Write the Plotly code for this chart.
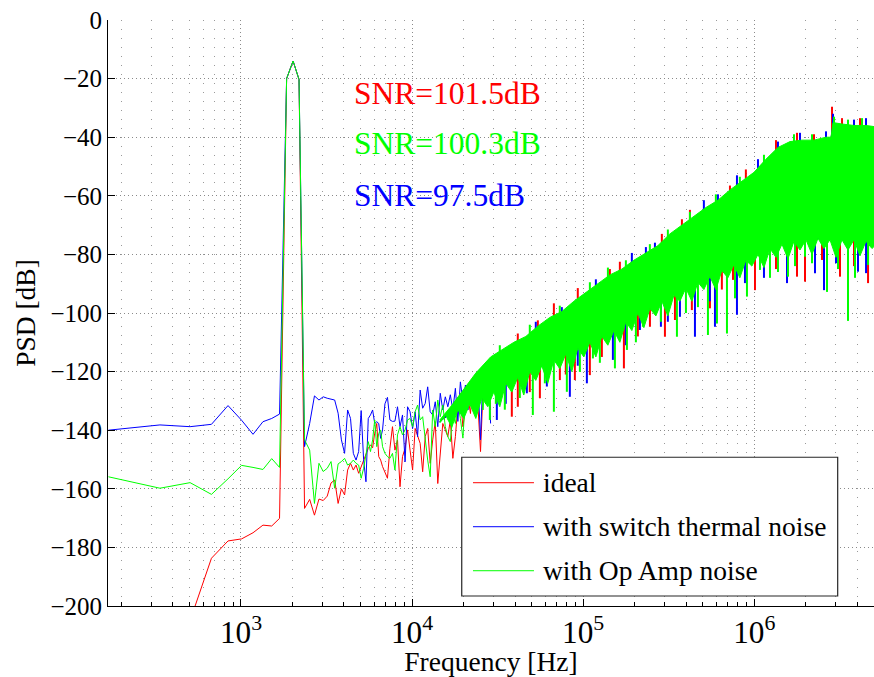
import math
import plotly.graph_objects as go

# ---------------------------------------------------------------------------
# PSD of the modulator output (dB) for three noise configurations
# ---------------------------------------------------------------------------

# Low-frequency FFT bins (resolution ~168 Hz), signal tone near 2 kHz
freq_bins = [168, 336, 504, 672, 840, 1008, 1176, 1344, 1512, 1680,
             1848, 2016, 2184, 2352, 2520, 2688, 2856, 3024, 3192, 3360,
             3528, 3696, 3864, 4032, 4200, 4368, 4536, 4704, 4872, 5040,
             5208, 5376, 5544, 5712, 5880, 6048, 6216, 6384, 6552, 6720]

ideal_bins = [-240, -222, -205, -183.7, -177.8, -177.1, -175.0, -172.4, -172.7, -170.1,
              -20.0, -14.0, -20.3, -166.7, -163.6, -169.0, -163.5, -164.0, -162.5, -158.0,
              -157.0, -165.0, -160.0, -162.1, -153.6, -151.3, -153.6, -151.9, -154.7, -152.4,
              -150.2, -148.5, -146.2, -145.0, -146.0, -141.0, -137.7, -149.0, -150.2, -152.4]
switch_bins = [-140.0, -138.2, -138.8, -138.0, -131.6, -136.6, -141.4, -137.1, -136.0, -134.5,
               -20.0, -14.0, -20.3, -145.6, -137.7, -128.3, -129.7, -128.6, -129.1, -129.5,
               -129.7, -134.2, -143.3, -147.9, -133.1, -136.0, -147.9, -150.2, -147.3, -133.3,
               -150.0, -157.6, -136.0, -134.8, -133.1, -137.7, -137.1, -137.7, -142.8, -139.9]
opamp_bins = [-155.9, -159.8, -157.9, -161.9, -156.6, -152.0, -152.7, -153.4, -149.7, -152.7,
              -20.0, -14.0, -20.3, -143.3, -146.8, -165.0, -151.3, -154.1, -153.0, -150.7,
              -159.8, -151.5, -150.7, -149.6, -151.9, -151.3, -150.2, -151.3, -151.9, -156.4,
              -153.0, -147.9, -143.9, -147.3, -143.3, -136.5, -145.6, -141.1, -139.9, -145.6]

# 7 kHz - 29 kHz: sampled points of the rising noise floor
freq_mid = [6940, 7180, 7420, 7680, 7940, 8220, 8500, 8790, 9100, 9410,
            9730, 10070, 10420, 10770, 11150, 11530, 11930, 12340, 12760, 13200,
            13660, 14130, 14610, 15120, 15640, 16180, 16730, 17310, 17910, 18520,
            19160, 19820, 20500, 21210, 21940, 22700, 23480, 24290, 25120, 25990,
            26890, 27810, 28770]

ideal_mid = [-154.7, -156.4, -146.2, -138.8, -146.8, -143.3, -159.3, -149.0, -146.2, -139.9,
             -146.8, -153.6, -139.4, -141.6, -144.5, -154.2, -142.2, -139.4, -151.3, -143.3,
             -137.1, -158.2, -146.8, -137.7, -139.9, -142.2, -136.5, -149.6, -142.2, -131.4,
             -129.1, -138.8, -132.5, -128.6, -134.3, -124.0, -127.4, -132.0, -147.3, -126.3,
             -122.9, -116.6, -133.1]
switch_mid = [-131.0, -128.8, -136.5, -137.0, -136.9, -132.0, -138.8, -134.8, -150.8, -132.0,
              -133.7, -139.4, -133.7, -142.2, -126.3, -132.5, -130.9, -125.2, -133.7, -134.8,
              -130.3, -138.8, -127.4, -133.1, -128.6, -132.0, -127.9, -133.1, -125.7, -137.0,
              -123.5, -130.3, -124.6, -133.1, -125.2, -122.9, -132.0, -123.5, -143.3, -120.1,
              -122.3, -120.6, -137.7]
opamp_mid = [-147.9, -149.0, -149.6, -147.9, -153.6, -141.6, -138.8, -141.6, -139.9, -136.5,
             -136.0, -138.8, -133.7, -131.4, -136.5, -135.4, -143.3, -150.2, -155.9, -133.1,
             -138.8, -129.7, -135.4, -131.4, -138.8, -142.2, -143.9, -134.3, -137.7, -130.9,
             -136.0, -142.7, -128.6, -127.4, -124.0, -126.3, -129.1, -120.6, -122.9, -133.1,
             -120.6, -129.7, -130.9]

# Above ~15 kHz the bins are too dense to separate: upper edge of the noise band
freq_band = [14522, 17067, 20058, 23574,
             28770, 33460, 39330, 46220, 54330, 63880, 75060, 88230, 103700, 121900,
             143300, 168400, 197900, 232600, 273400, 321400, 377700, 444000, 521800, 613400,
             721000, 847500, 995900, 1170600, 1375900, 1617200, 1900900, 2234300, 2626300, 2808500,
             2885100, 3258000, 3828500, 4500500, 5200000]

ideal_top = [-137, -132, -126.5, -121,
             -115.5, -113, -110.5, -108.5, -105, -102, -100, -96.5, -93.5, -90.5,
             -87.5, -85.5, -82.5, -80, -77.5, -73.5, -70.5, -67.5, -64.5, -62,
             -58.5, -55.5, -52.5, -48, -44, -42, -41.5, -41.5, -40.5, -40.5,
             -35.5, -36, -36.5, -36.5, -37]
ideal_floor = [-137, -134, -131, -128.5,
               -127, -125, -122.5, -120, -118, -116, -114, -112, -110, -108,
               -106, -103, -100, -98, -96, -94, -91.5, -89, -87, -85,
               -83, -81, -79, -77.5, -76, -74.5, -74, -74, -74, -74,
               -74, -74, -74, -74.5, -75]
switch_top = [-137, -132, -126.5, -121,
              -115.5, -113, -110.5, -108.5, -105, -102, -100, -96.5, -93.5, -90.5,
              -87.5, -85.5, -82.5, -80, -77.5, -73.5, -70.5, -67.5, -64.5, -62,
              -58.5, -55.5, -52.5, -48, -44, -42, -41.5, -41.5, -40.5, -40.5,
              -35.5, -36, -36.5, -36.5, -37]
switch_floor = [-137, -134, -130.5, -128.5,
                -127.5, -125, -122, -120.5, -118, -116.5, -114, -112.5, -110, -108.5,
                -106, -103.5, -100, -98.5, -96, -94.5, -91.5, -89.5, -87, -85.5,
                -83, -81.5, -79, -78, -76, -75, -74.5, -74.5, -74.5, -74.5,
                -74.5, -74.5, -74.5, -75, -75.5]
opamp_top = [-136.5, -131.5, -126, -120.5,
             -115, -112.5, -110, -108, -104.5, -101.5, -99.5, -96, -93, -90,
             -87, -85, -82, -79.5, -77, -73, -70, -67, -64, -61.5,
             -58, -55, -52, -47.5, -43.5, -41.5, -41, -41, -40, -40,
             -35, -35.5, -36, -36, -36.5]

# Lower edge of the Op Amp band, sampled finely (ragged edge of overlapping bins)
freq_floor = [14522, 15743, 17067, 18502, 20058, 21745, 23574, 25556, 27705, 30034,
              32560, 35298, 38266, 41484, 44973, 48754, 52854, 57298, 62116, 67339,
              73001, 79140, 85795, 93010, 100946, 109430, 118630, 128610, 139420, 151150,
              163860, 177640, 192580, 208770, 226330, 245360, 266000, 288360, 312610, 338900,
              367400, 398300, 431800, 468100, 507500, 550200, 596400, 646600, 701000, 759900,
              823800, 893100, 968200, 1051100, 1139600, 1235400, 1339300, 1451900, 1574100, 1706500,
              1850000, 2005600, 2174300, 2357100, 2555400, 2770300, 3003300, 3255900, 3529700, 3826600,
              4148300, 4497200, 4875400, 5285400]
opamp_floor = [-137.5, -135, -139, -133, -136, -131, -136, -129, -132, -127,
               -132, -124, -127, -122, -128, -120, -123, -118, -124, -116,
               -119, -114, -120, -112, -115, -110, -115, -108, -111, -106,
               -110, -103, -106, -100, -105, -98.5, -101, -96, -101, -94,
               -96, -91.5, -96, -89.5, -92, -87.5, -92, -85.5, -88, -83.5,
               -88, -82, -84, -80, -84.5, -78, -81, -76.5, -81.5, -75.5,
               -78.5, -75, -80, -74.5, -78, -75, -81, -75, -78.5, -75,
               -80.5, -75.5, -78, -76]

# Isolated excursions of single bins beyond the band (frequency, low dB, high dB)
ideal_exc_f = [38280, 41500, 55840, 73070, 89430, 109400, 173000, 245600, 300500, 343900,
               550800, 750900, 1009500, 1777000, 1979600, 2488900, 3170900, 4623800,
               48754, 79140, 128610, 208770, 431800, 646600, 1339300, 3826600,
               67420, 420700, 2848000, 1777000, 41484, 93010, 163860, 288360,
               893100, 1339300, 4148300,
               54330, 143300, 377700, 721000, 2234300, 3258000]
ideal_exc_lo = [-135.4, -132, -129.1, -122.9, -122.9, -121.2, -118.9, -104.7, -108.1, -102.4,
                -98.4, -88.7, -92.2, -87.6, -89.3, -81.9, -87.6, -89.8,
                -127, -121, -115, -108, -99, -92, -85, -84,
                -103, -70, -39, -44, -113, -97, -88, -79,
                -56, -47, -39,
                -106, -89, -72, -61, -43, -38]
ideal_exc_hi = [-122, -121, -117, -114, -111, -109, -102, -97, -94, -92,
                -86, -82, -78, -73, -73, -72, -72, -72,
                -118, -113, -107, -100, -90, -85, -76, -74,
                -96.7, -64.8, -29.6, -38.5, -107, -91.5, -82.5, -73,
                -51, -41, -33.5,
                -102.5, -85, -68, -56.5, -39, -33.5]

switch_exc_f = [31290, 46870, 61340, 83590, 105100, 149200, 163900, 214600, 284700, 367800,
                450100, 589200, 792300, 882300, 1553400, 2264700, 2556800, 4040200, 4500500,
                35298, 93010, 177640, 312610, 550200, 1139600, 3003300,
                262700, 792300, 2885100, 52854, 118630, 192580, 507500,
                1051100, 1850000, 4497200,
                75060, 232600, 613400, 1375900, 2626300, 3828500]
switch_exc_lo = [-136.5, -127.4, -125.1, -128.6, -124, -116, -108.1, -105.8, -104.7, -101.3,
                 -108.1, -104.7, -100.6, -89.8, -89.8, -86.4, -92.2, -85.9, -86.4,
                 -131, -118, -111, -103, -96, -88, -83,
                 -81, -58, -38, -108, -94, -85, -67,
                 -53, -44, -39,
                 -102, -81, -64, -46, -42, -38]
switch_exc_hi = [-125, -119, -116, -112, -110, -105, -103, -98, -95, -92,
                 -89, -85, -82, -80, -74, -72, -72, -72, -72,
                 -124, -111, -103, -95, -87, -78, -74,
                 -76, -53, -32, -103, -88.5, -79.5, -61.5,
                 -47.5, -38.5, -33.5,
                 -98, -77.5, -59.5, -41.5, -38, -34]

opamp_exc_f = [28480, 30870, 34840, 42650, 50790, 59700, 67420, 80280, 95650, 114000,
               125200, 153300, 180200, 203300, 223400, 284700, 353200, 398700, 468600, 536100,
               605300, 692500, 771300, 906400, 1079800, 1235400, 1375900, 1574500, 1729800, 1979600,
               2175000, 2662000, 3086700, 3531800, 3880500, 4623800,
               139500, 420700, 2926000, 4264000, 32560, 48754, 73001, 109430,
               177640, 245360, 312610, 596400, 823800, 1139600, 1706500, 2174300, 3529700]
opamp_exc_lo = [-136.5, -131, -133, -129, -134.8, -124, -133.7, -126.9, -120.1, -115.5,
                -117, -118.9, -112.6, -110, -104.7, -103, -108.1, -100, -98, -107.5,
                -103.6, -107, -95, -94.4, -85.3, -88, -86, -87.6, -84, -80.8,
                -83, -92.8, -85, -102.7, -88, -83.6,
                -92, -70, -38, -38, -116, -110, -103, -95,
                -87, -82, -77, -65, -59, -52, -45, -44, -39]
opamp_exc_hi = [-126, -125, -124, -121, -116, -116, -114, -112, -110, -108,
                -107, -104, -101, -99, -97, -94, -91, -90, -88, -86,
                -84, -82, -82, -79, -77, -76, -75, -73, -73, -72,
                -72, -72, -72, -72, -72, -72,
                -84.5, -65.5, -33, -33.5, -111, -104, -97.5, -89.5,
                -82, -76.5, -71.5, -59.5, -53.5, -46, -39, -39, -34]

series_names = ["ideal", "with switch thermal noise", "with Op Amp noise"]
series_colors = ["#ff0000", "#0000ff", "#00ff00"]

# SNR figures quoted on the plot
snr_labels = ["SNR=101.5dB", "SNR=100.3dB", "SNR=97.5dB"]
snr_colors = ["#ff0000", "#00ff00", "#0000ff"]
snr_levels = [-25, -42, -60]

SERIF = "Liberation Serif"

fig = go.Figure()

series = [
    (ideal_bins, ideal_mid, ideal_top, freq_band, ideal_floor,
     ideal_exc_f, ideal_exc_lo, ideal_exc_hi),
    (switch_bins, switch_mid, switch_top, freq_band, switch_floor,
     switch_exc_f, switch_exc_lo, switch_exc_hi),
    (opamp_bins, opamp_mid, opamp_top, freq_floor, opamp_floor,
     opamp_exc_f, opamp_exc_lo, opamp_exc_hi),
]

for name, color, (bins, mid, top, f_low, floor, ef, elo, ehi) in zip(series_names, series_colors, series):
    # resolved bins
    fig.add_trace(go.Scatter(
        x=freq_bins + freq_mid, y=bins + mid, mode="lines",
        line=dict(color=color, width=1), name=name, legendgroup=name,
        showlegend=False))
    # dense noise band: upper edge forward, lower edge back
    fig.add_trace(go.Scatter(
        x=freq_band + f_low[::-1], y=top + floor[::-1], mode="lines",
        fill="toself", fillcolor=color, line=dict(color=color, width=1),
        name=name, legendgroup=name, showlegend=False, hoverinfo="skip"))
    # single-bin excursions
    xs, ys = [], []
    for f, lo, hi in zip(ef, elo, ehi):
        xs += [f, f, None]
        ys += [lo, hi, None]
    fig.add_trace(go.Scatter(
        x=xs, y=ys, mode="lines", line=dict(color=color, width=2),
        name=name, legendgroup=name, showlegend=False, hoverinfo="skip"))

# SNR labels
for text, color, yv in zip(snr_labels, snr_colors, snr_levels):
    fig.add_annotation(x=math.log10(4440), y=yv, xref="x", yref="y", text=text,
                       showarrow=False, xanchor="left", yanchor="middle",
                       font=dict(family=SERIF, size=31.5, color=color))

# Legend box (drawn in paper coordinates)
fig.add_shape(type="rect", xref="paper", yref="paper",
              x0=0.4618, x1=0.9526, y0=0.0171, y1=0.2538,
              line=dict(color="#262626", width=1.2), fillcolor="white", layer="above")
row_y = [0.2104, 0.1353, 0.0602]
for name, color, yv in zip(series_names, series_colors, row_y):
    fig.add_shape(type="line", xref="paper", yref="paper",
                  x0=0.4765, x1=0.5561, y0=yv, y1=yv,
                  line=dict(color=color, width=1), layer="above")
    fig.add_annotation(x=0.5653, y=yv, xref="paper", yref="paper", text=name,
                       showarrow=False, xanchor="left", yanchor="middle",
                       font=dict(family=SERIF, size=27.5, color="black"))

fig.update_layout(
    width=874, height=677,
    margin=dict(l=108, r=0, t=20, b=71),
    paper_bgcolor="white", plot_bgcolor="white",
    font=dict(family=SERIF, size=25, color="black"),
    showlegend=False,
)

fig.update_xaxes(
    type="log", range=[math.log10(167), math.log10(5.01e6)],
    dtick=1, exponentformat="power", showexponent="all",
    showline=True, linecolor="black", linewidth=1, mirror=False,
    ticks="inside", ticklen=7, tickcolor="black",
    showgrid=True, gridcolor="#8a8a8a", gridwidth=1, griddash="1px,3px",
    minor=dict(dtick="D1", ticks="inside", ticklen=4, tickcolor="black",
               showgrid=True, gridcolor="#9a9a9a", griddash="1px,8px"),
    zeroline=False,
    title=dict(text="Frequency [Hz]", font=dict(family=SERIF, size=27.5), standoff=4),
)
fig.update_yaxes(
    range=[-200, 0], dtick=20,
    showline=True, linecolor="black", linewidth=1, mirror=False,
    ticks="inside", ticklen=7, tickcolor="black",
    showgrid=True, gridcolor="#8a8a8a", gridwidth=1, griddash="1px,3px",
    zeroline=False,
    title=dict(text="PSD [dB]", font=dict(family=SERIF, size=27.5), standoff=6),
)

fig.write_html("out.html")
